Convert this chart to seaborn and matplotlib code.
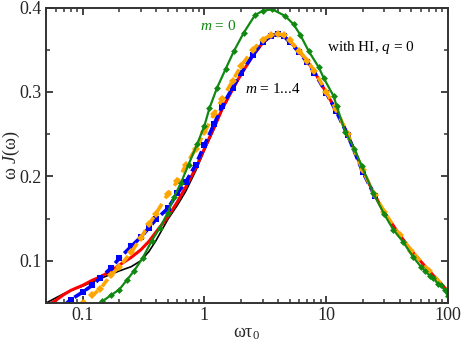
import numpy as np
import pandas as pd
import matplotlib
matplotlib.use('Agg')
import matplotlib.pyplot as plt
import matplotlib.ticker as mticker
import seaborn as sns

# frequency grid for the m = 1...4 curves
wt = [0.05, 0.06, 0.07, 0.08, 0.1, 0.12, 0.14, 0.17, 0.2, 0.25, 0.3, 0.35, 0.4,
      0.5, 0.6, 0.7, 0.85, 1.0, 1.2, 1.4, 1.7, 2.0, 2.5, 3.0, 3.5, 4.0, 4.5, 5.0,
      6.0, 7.0, 8.0, 10, 12, 15, 20, 25, 30, 40, 50, 70, 100]

m4_black = [0.050, 0.056, 0.061, 0.065, 0.070, 0.075, 0.079, 0.084, 0.088, 0.093, 0.100, 0.111, 0.124,
            0.149, 0.166, 0.182, 0.207, 0.231, 0.256, 0.279, 0.302, 0.321, 0.343, 0.358, 0.366, 0.369, 0.366, 0.360,
            0.348, 0.336, 0.324, 0.299, 0.279, 0.250, 0.206, 0.178, 0.157, 0.131, 0.112, 0.088, 0.064]
m3_red = [0.046, 0.053, 0.060, 0.065, 0.071, 0.077, 0.081, 0.088, 0.095, 0.104, 0.113, 0.123, 0.134,
          0.152, 0.170, 0.187, 0.210, 0.233, 0.258, 0.280, 0.303, 0.321, 0.343, 0.358, 0.366, 0.369, 0.366, 0.360,
          0.348, 0.336, 0.324, 0.299, 0.279, 0.250, 0.206, 0.178, 0.157, 0.131, 0.112, 0.088, 0.064]
m2_blue = [np.nan, np.nan, 0.047, 0.054, 0.063, 0.071, 0.080, 0.091, 0.103, 0.117, 0.128, 0.139, 0.149,
           0.162, 0.180, 0.193, 0.214, 0.237, 0.262, 0.283, 0.305, 0.322, 0.344, 0.359, 0.366, 0.369, 0.366, 0.359,
           0.347, 0.335, 0.323, 0.299, 0.278, 0.249, 0.205, 0.177, np.nan, np.nan, np.nan, np.nan, np.nan]
m1_orange = [np.nan, np.nan, np.nan, np.nan, 0.050, 0.059, 0.067, 0.083, 0.093, 0.110, 0.127, 0.143, 0.156,
             0.179, 0.194, 0.213, 0.233, 0.252, 0.274, 0.292, 0.313, 0.331, 0.350, 0.362, 0.367, 0.369, 0.367, 0.361,
             0.349, 0.337, 0.325, 0.300, 0.280, 0.250, 0.207, 0.178, 0.158, 0.130, 0.112, 0.088, 0.064]

# m = 0 curve
wt_m0 = [0.13, 0.145, 0.17, 0.2, 0.23, 0.264, 0.31, 0.37, 0.43, 0.5, 0.56, 0.64, 0.74, 0.87,
         1.0, 1.1, 1.27, 1.49, 1.74, 2.1, 2.6, 3.0, 3.6, 4.6, 5.4, 6.1, 7.2, 8.7, 9.5, 11.5,
         12.2, 14.3, 17, 19.6, 24.4, 30, 35.5, 43, 52, 60, 65, 71, 76, 82, 88, 94, 100]
m0_green = [0.046, 0.052, 0.059, 0.066, 0.077, 0.088, 0.103, 0.124, 0.139, 0.157, 0.175, 0.192, 0.214, 0.238,
            0.260, 0.281, 0.305, 0.327, 0.348, 0.370, 0.391, 0.396, 0.398, 0.390, 0.380, 0.368, 0.348, 0.329, 0.317, 0.295,
            0.283, 0.253, 0.233, 0.212, 0.180, 0.155, 0.137, 0.122, 0.104, 0.093, 0.088, 0.082, 0.080, 0.073, 0.071, 0.065, 0.058]

xticks = [0.1, 1, 10, 100]
xticklabels = ['0.1', '1', '10', '100']
yticks = [0.1, 0.2, 0.3, 0.4]
yticklabels = ['0.1', '0.2', '0.3', '0.4']

sns.set_style('ticks')
plt.rcParams['font.family'] = ['Liberation Serif', 'DejaVu Serif']
plt.rcParams['mathtext.fontset'] = 'custom'
plt.rcParams['mathtext.rm'] = 'Liberation Serif'
plt.rcParams['mathtext.it'] = 'Liberation Serif:italic'

fig, ax = plt.subplots(figsize=(4.63, 3.42), dpi=100)
fig.subplots_adjust(left=0.0994, right=0.9676, top=0.978, bottom=0.114)

sns.lineplot(x=wt, y=m4_black, ax=ax, color='black', lw=1.2, sort=False, estimator=None)
sns.lineplot(x=wt, y=m3_red, ax=ax, color='red', lw=2.2, sort=False, estimator=None)
sns.lineplot(x=wt, y=m2_blue, ax=ax, color='blue', lw=2.6, sort=False, estimator=None,
             linestyle=(0, (2.5, 1.2)), marker='s', markersize=4, markeredgewidth=0)
sns.lineplot(x=wt, y=m1_orange, ax=ax, color='orange', lw=2.6, sort=False, estimator=None,
             linestyle=(1.5, (2.5, 1.8)), marker='D', markersize=4, markeredgewidth=0)
sns.lineplot(x=wt_m0, y=m0_green, ax=ax, color='#118811', lw=1.6, sort=False, estimator=None,
             marker='D', markersize=3.5, markeredgewidth=0)

ax.set_xscale('log')
ax.set_xlim(0.05, 100)
ax.set_ylim(0.05, 0.4)
ax.set_xticks(xticks)
ax.set_xticklabels(xticklabels)
ax.xaxis.set_minor_locator(mticker.LogLocator(base=10, subs=np.arange(2, 10)))
ax.xaxis.set_minor_formatter(mticker.NullFormatter())
ax.set_yticks(yticks)
ax.set_yticklabels(yticklabels)
ax.yaxis.set_minor_locator(mticker.MultipleLocator(0.05))

for sp in ax.spines.values():
    sp.set_visible(True)
    sp.set_linewidth(1.4)
    sp.set_color('#333333')
ax.tick_params(which='both', direction='in', top=True, right=True, color='#333333',
               labelsize=13, pad=3)
ax.tick_params(which='major', length=5, width=1.3)
ax.tick_params(which='minor', length=3, width=1.1)

ax.set_xlabel('ωτ$_0$', fontsize=13)
ax.set_ylabel('ω $\\mathit{J}$(ω)', fontsize=13, va='center')
ax.xaxis.set_label_coords(0.5, -0.075)
ax.yaxis.set_label_coords(-0.087, 0.5)

ax.text(1.3, 0.378, '$m$ = 0', color='#118811', fontsize=11, ha='center', va='center')
ax.text(10.2, 0.353, 'with HI, $q$ = 0', color='black', fontsize=11, ha='left', va='center')
ax.text(2.17, 0.303, '$m$ = 1...4', color='black', fontsize=11, ha='left', va='center')

fig.savefig('out.png', dpi=100)
